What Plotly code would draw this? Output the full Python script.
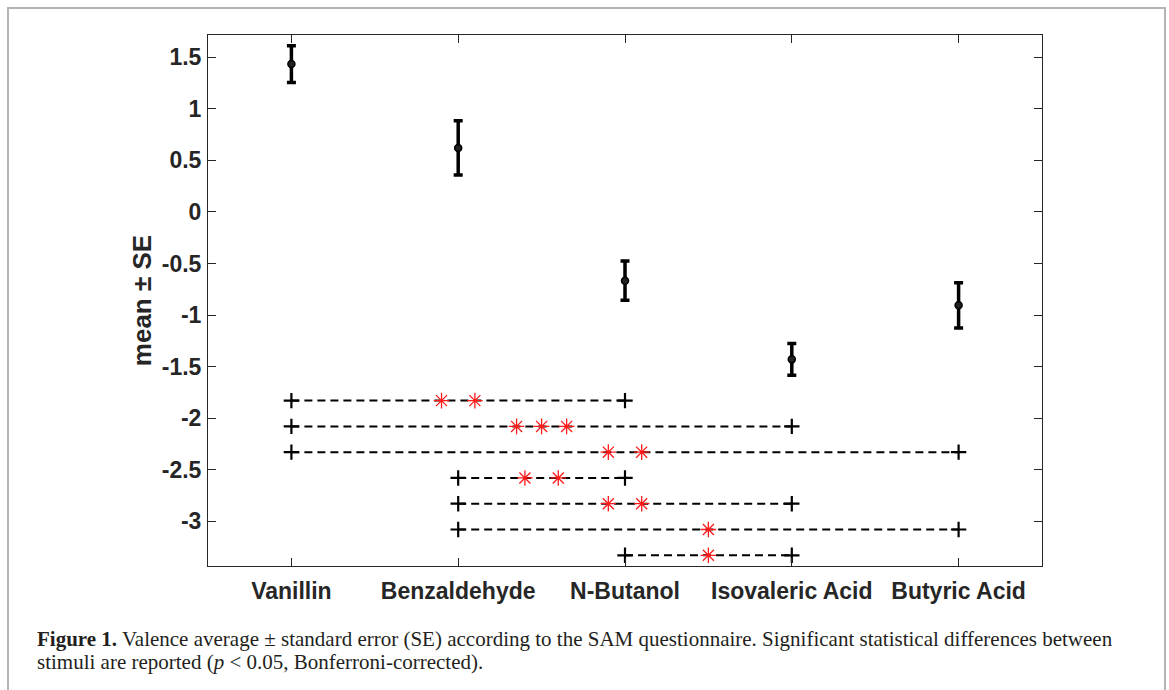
import plotly.graph_objects as go

# ---- data ----
stimuli = ["Vanillin", "Benzaldehyde", "N-Butanol", "Isovaleric Acid", "Butyric Acid"]
x_pos = [1, 2, 3, 4, 5]
means = [1.434, 0.621, -0.667, -1.430, -0.906]
se = [0.178, 0.263, 0.190, 0.153, 0.220]

pair_start = [1, 1, 1, 2, 2, 2, 3]
pair_end = [3, 4, 5, 3, 4, 5, 4]
pair_level = [-1.83, -2.08, -2.33, -2.58, -2.83, -3.08, -3.33]
star_x = [[1.9, 2.1], [2.35, 2.5, 2.65], [2.9, 3.1], [2.4, 2.6], [2.9, 3.1], [3.5], [3.5]]

y_ticks = [-3, -2.5, -2, -1.5, -1, -0.5, 0, 0.5, 1, 1.5]
y_ticktext = ["-3", "-2.5", "-2", "-1.5", "-1", "-0.5", "0", "0.5", "1", "1.5"]

caption_line1 = ("<b>Figure 1.</b> Valence average ± standard error (SE) according to the SAM questionnaire. "
                 "Significant statistical differences between")
caption_line2 = "stimuli are reported (<i>p</i> &lt; 0.05, Bonferroni-corrected)."

# ---- figure ----
W, H = 1169, 690
L, R, T, B = 208, 127, 35, 124
pw, ph = W - L - R, H - T - B

def px_x(px):
    return (px - L) / pw

def px_y(py):
    return 1 - (py - T) / ph

fig = go.Figure()

# significance lines
for a, b, lvl in zip(pair_start, pair_end, pair_level):
    fig.add_trace(go.Scatter(
        x=[a, b], y=[lvl, lvl], mode="lines+markers",
        line=dict(color="black", width=2, dash="8px,5px"),
        marker=dict(symbol="cross-thin-open", size=11, line=dict(color="black", width=2.2)),
        showlegend=False, hoverinfo="skip"))

# stars
for xs, lvl in zip(star_x, pair_level):
    fig.add_trace(go.Scatter(
        x=xs, y=[lvl] * len(xs), mode="markers",
        marker=dict(symbol="asterisk-open", size=13, color="#ff1a1a",
                    line=dict(color="#ff1a1a", width=1.3)),
        showlegend=False, hoverinfo="skip"))

# means with SE
fig.add_trace(go.Scatter(
    x=x_pos, y=means, mode="markers",
    marker=dict(symbol="circle", size=7, color="#222222", line=dict(color="black", width=1.5)),
    error_y=dict(type="data", array=se, visible=True, color="black", thickness=3.5, width=4.5),
    showlegend=False))

axis_common = dict(
    showline=True, linecolor="#262626", linewidth=1, mirror="ticks",
    ticks="inside", ticklen=8, tickwidth=1, tickcolor="#262626",
    showgrid=False, zeroline=False,
    tickfont=dict(family="Liberation Sans, Arial, sans-serif", size=23, color="#262626", weight="bold"),
)

fig.update_xaxes(range=[0.5, 5.5], tickvals=x_pos, ticktext=stimuli, ticklabelstandoff=4, **axis_common)
fig.update_yaxes(range=[-3.434, 1.716], tickvals=y_ticks, ticktext=y_ticktext, ticklabelstandoff=1,
                 title=dict(text="mean ± SE", standoff=2,
                            font=dict(family="Liberation Sans, Arial, sans-serif", size=26,
                                      color="#262626", weight="bold")),
                 **axis_common)

cap_font = dict(family="Liberation Serif, Times New Roman, serif", size=21, color="#231f20")

fig.update_layout(
    width=W, height=H,
    margin=dict(l=L, r=R, t=T, b=B, autoexpand=False),
    paper_bgcolor="white", plot_bgcolor="white",
    shapes=[dict(type="rect", xref="paper", yref="paper",
                 x0=px_x(8), x1=px_x(1165), y0=px_y(720), y1=px_y(8),
                 line=dict(color="#b4b4b4", width=2), fillcolor="rgba(0,0,0,0)", layer="below")],
    annotations=[
        dict(text=caption_line1, xref="paper", yref="paper",
             x=px_x(35), y=px_y(639), xanchor="left", yanchor="middle", align="left",
             showarrow=False, font=cap_font),
        dict(text=caption_line2, xref="paper", yref="paper",
             x=px_x(35), y=px_y(662), xanchor="left", yanchor="middle", align="left",
             showarrow=False, font=cap_font),
    ],
)

fig.write_html("out.html")
